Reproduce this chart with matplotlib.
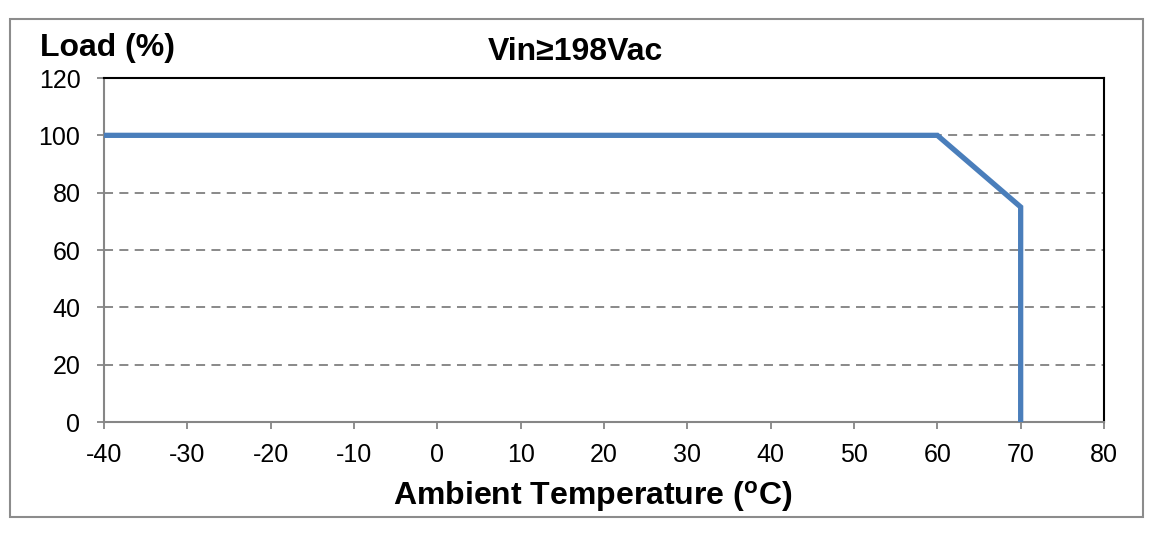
import matplotlib.pyplot as plt
import numpy as np
from matplotlib.patches import Rectangle

plt.rcParams['font.family'] = ['Liberation Sans', 'DejaVu Sans']
plt.rcParams['mathtext.fontset'] = 'custom'
plt.rcParams['mathtext.rm'] = 'Liberation Sans'
plt.rcParams['mathtext.bf'] = 'Liberation Sans:bold'
plt.rcParams['axes.unicode_minus'] = False

# derating curve
temp = [-40, 60, 70, 70]
load = [100, 100, 75, 0]

x_ticks = np.arange(-40, 81, 10)
y_ticks = np.arange(0, 121, 20)
grid_levels = [20, 40, 60, 80, 100]

fig = plt.figure(figsize=(11.6, 5.36), dpi=100)
ax = fig.add_axes([104 / 1160, 1 - 422 / 536, 1000 / 1160, 344 / 536])

# outer frame
fig.patches.append(Rectangle((10 / 1160, 1 - 517 / 536), 1133 / 1160, 498 / 536,
                             transform=fig.transFigure, fill=False,
                             edgecolor='#8c8c8c', linewidth=1.5))

for g in grid_levels:
    ax.axhline(g, color='#808080', linewidth=1.3, linestyle=(0, (5, 3.5)), zorder=1)

ax.plot(temp, load, color='#4a7ebb', linewidth=3.8, solid_joinstyle='miter', zorder=3)

ax.set_xlim(-40, 80)
ax.set_ylim(0, 120)
ax.set_xticks(x_ticks)
ax.set_yticks(y_ticks)
ax.tick_params(axis='both', direction='out', length=5, width=1.3, color='#868686',
               labelsize=18, labelcolor='black')
ax.tick_params(axis='x', pad=10)
ax.tick_params(axis='y', pad=12)

for s in ['left', 'bottom']:
    ax.spines[s].set_color('#868686')
    ax.spines[s].set_linewidth(1.5)
for s in ['top', 'right']:
    ax.spines[s].set_color('black')
    ax.spines[s].set_linewidth(1.5)

fig.text(575 / 1160, 1 - 52 / 536, 'Vin≥198Vac', ha='center', va='center',
         fontsize=23, fontweight='bold')
fig.text(40 / 1160, 1 - 48 / 536, 'Load (%)', ha='left', va='center',
         fontsize=23, fontweight='bold')
fig.text(593 / 1160, 1 - 497 / 536, r'Ambient Temperature ($\mathbf{^{o}}$C)',
         ha='center', va='center', fontsize=23, fontweight='bold')

fig.savefig('out.png', dpi=100)
